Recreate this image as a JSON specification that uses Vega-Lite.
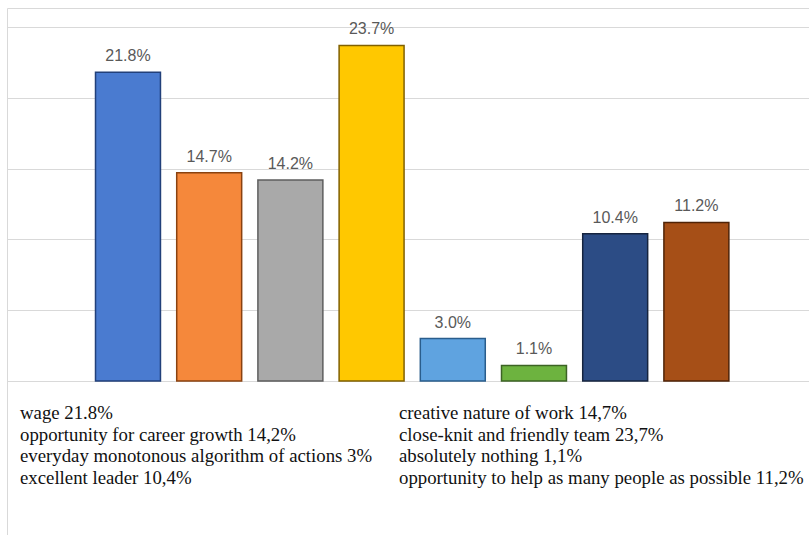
{
  "$schema": "https://vega.github.io/schema/vega-lite/v6.json",
  "width": 812,
  "height": 537,
  "autosize": {"type": "none"},
  "padding": {"left": 7, "top": 8, "right": 0, "bottom": 0},
  "background": "white",
  "config": {"view": {"stroke": "#d9d9d9", "strokeWidth": 1}},
  "layer": [
    {
      "data": {"values": [
        {"cat": "wage", "value": 21.8, "label": "21.8%"},
        {"cat": "creative nature of work", "value": 14.7, "label": "14.7%"},
        {"cat": "opportunity for career growth", "value": 14.2, "label": "14.2%"},
        {"cat": "close-knit and friendly team", "value": 23.7, "label": "23.7%"},
        {"cat": "everyday monotonous algorithm of actions", "value": 3.0, "label": "3.0%"},
        {"cat": "absolutely nothing", "value": 1.1, "label": "1.1%"},
        {"cat": "excellent leader", "value": 10.4, "label": "10.4%"},
        {"cat": "opportunity to help as many people as possible", "value": 11.2, "label": "11.2%"}
      ]},
      "encoding": {
        "x": {"field": "cat", "type": "nominal", "sort": null, "axis": null,
              "scale": {"paddingInner": 0, "paddingOuter": 1, "align": 0.495}},
        "y": {"field": "value", "type": "quantitative",
              "scale": {"domain": [-11.582, 26.342], "nice": false, "zero": false},
              "axis": {"values": [0, 5, 10, 15, 20, 25], "grid": true, "gridColor": "#d9d9d9", "gridWidth": 1,
                       "labels": false, "ticks": false, "domain": false, "title": null}}
      },
      "layer": [
        {
          "mark": {"type": "bar", "strokeWidth": 1.5, "width": {"band": 0.8}},
          "encoding": {
            "color": {"field": "cat", "type": "nominal", "sort": null, "legend": null,
                      "scale": {"range": ["#4A7BD0", "#F5883B", "#A9A9A9", "#FFC800", "#5FA3E0", "#6DB33F", "#2C4C85", "#A64F17"]}},
            "stroke": {"field": "cat", "type": "nominal", "sort": null, "legend": null,
                       "scale": {"range": ["#22407A", "#8A4210", "#5E5E5E", "#806000", "#2A5D8C", "#3C6324", "#16243F", "#4F2307"]}},
            "opacity": {"value": 1}
          }
        },
        {
          "mark": {"type": "text", "font": "Liberation Sans", "fontSize": 16, "color": "#595959", "baseline": "alphabetic", "dy": -11},
          "encoding": {"text": {"field": "label"}}
        }
      ]
    },
    {
      "data": {"values": [
        {"col": "L", "line": 1, "text": "wage 21.8%"},
        {"col": "L", "line": 2, "text": "opportunity for career growth 14,2%"},
        {"col": "L", "line": 3, "text": "everyday monotonous algorithm of actions 3%"},
        {"col": "L", "line": 4, "text": "excellent leader 10,4%"},
        {"col": "R", "line": 1, "text": "creative nature of work 14,7%"},
        {"col": "R", "line": 2, "text": "close-knit and friendly team 23,7%"},
        {"col": "R", "line": 3, "text": "absolutely nothing 1,1%"},
        {"col": "R", "line": 4, "text": "opportunity to help as many people as possible 11,2%"}
      ]},
      "mark": {"type": "text", "font": "Liberation Serif", "fontSize": 18.8, "color": "#111111", "align": "left", "baseline": "alphabetic"},
      "encoding": {
        "x": {"field": "col", "type": "ordinal", "axis": null, "scale": {"type": "point", "padding": 0.5712, "align": 0.03}},
        "y": {"field": "line", "type": "quantitative", "axis": null, "scale": {"domain": [-18.116, 6.86], "reverse": true, "nice": false, "zero": false}},
        "text": {"field": "text"}
      }
    }
  ],
  "resolve": {"scale": {"x": "independent", "y": "independent"}}
}
